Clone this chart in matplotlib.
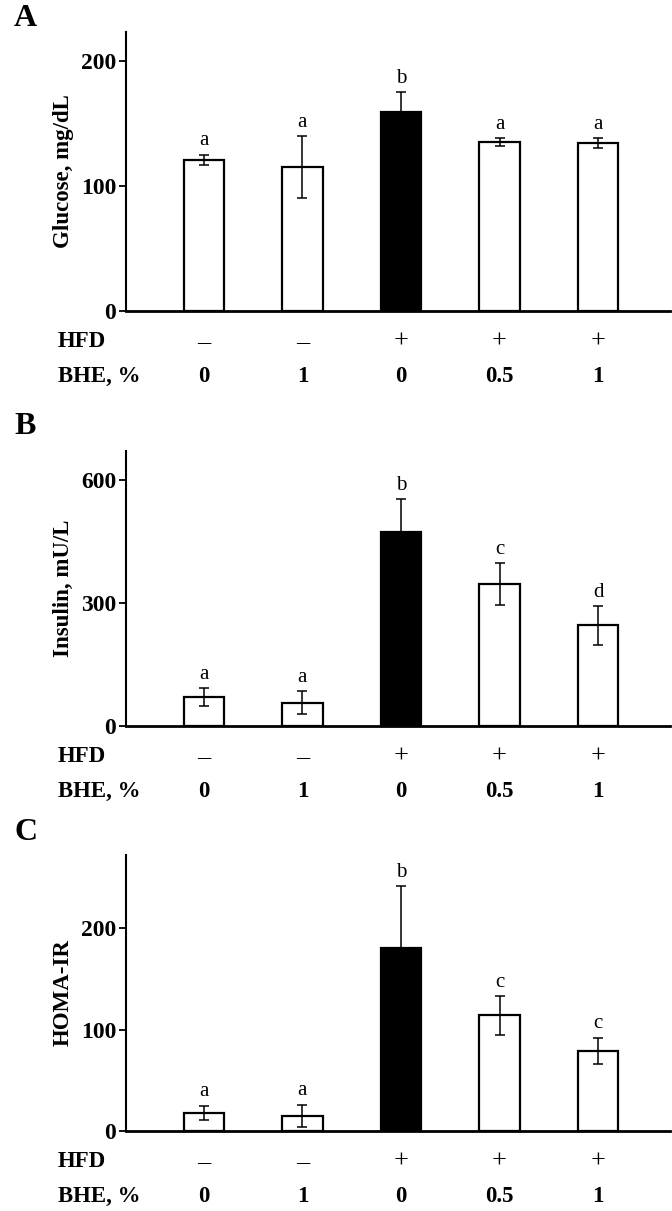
import matplotlib
matplotlib.use("Agg")
import matplotlib.pyplot as plt

# ── Data ───────────────────────────────────────────────────────
hfd = ["\u2013", "\u2013", "+", "+", "+"]
bhe = ["0", "1", "0", "0.5", "1"]
bar_colors = ["white", "white", "black", "white", "white"]

glucose = [121, 115, 159, 135, 134]
glucose_err = [4, 25, 16, 3, 4]
glucose_sig = ["a", "a", "b", "a", "a"]

insulin = [70, 57, 475, 347, 246]
insulin_err = [22, 28, 80, 52, 48]
insulin_sig = ["a", "a", "b", "c", "d"]

homa = [18, 15, 180, 114, 79]
homa_err = [7, 11, 61, 19, 13]
homa_sig = ["a", "a", "b", "c", "c"]

# ── Style ──────────────────────────────────────────────────────
plt.rcParams["font.family"] = ["Liberation Serif", "DejaVu Serif"]
plt.rcParams["font.weight"] = "bold"

fig = plt.figure(figsize=(6.72, 12.11), dpi=100)

W, H = 672.0, 1211.0
panels = [
    # letter, ylabel, values, errors, sig, ylim, ticks, (top px, bottom px, letter px)
    ("A", "Glucose, mg/dL", glucose, glucose_err, glucose_sig, 223, [0, 100, 200], (32, 311, 18)),
    ("B", "Insulin, mU/L", insulin, insulin_err, insulin_sig, 672, [0, 300, 600], (451, 726, 427)),
    ("C", "HOMA-IR", homa, homa_err, homa_sig, 272, [0, 100, 200], (855, 1131, 833)),
]

left_px, right_px = 126, 670
x = list(range(len(bhe)))

for letter, ylabel, vals, errs, sig, ytop, ticks, (top_px, bot_px, let_px) in panels:
    ax = fig.add_axes([left_px / W, 1 - bot_px / H,
                       (right_px - left_px) / W, (bot_px - top_px) / H])

    ax.bar(x, vals, width=0.41, color=bar_colors, edgecolor="black",
           linewidth=1.6, zorder=2)
    ax.errorbar(x, vals, yerr=errs, fmt="none", ecolor="black",
                elinewidth=1.1, capsize=3.5, capthick=1.1, zorder=3)

    # significance letters
    for i, (v, e, s) in enumerate(zip(vals, errs, sig)):
        ax.annotate(s, xy=(i, v + e), xytext=(0, 3), textcoords="offset points",
                    ha="center", va="bottom", fontsize=15, fontweight="normal")

    ax.set_xlim(-0.79, 4.73)
    ax.set_ylim(0, ytop)
    ax.set_yticks(ticks)
    ax.set_xticks([])
    ax.tick_params(axis="y", direction="out", length=5, width=1.3,
                   labelsize=17, pad=2)
    for lab in ax.get_yticklabels():
        lab.set_fontweight("bold")

    ax.spines["top"].set_visible(False)
    ax.spines["right"].set_visible(False)
    ax.spines["left"].set_linewidth(1.5)
    ax.spines["bottom"].set_linewidth(2.0)

    ax.set_ylabel(ylabel, fontsize=16.5, fontweight="bold", labelpad=5)

    # treatment rows under the axis
    lab_x = (58 - left_px) / (right_px - left_px)
    ax.annotate("HFD", xy=(lab_x, 0), xycoords="axes fraction",
                xytext=(0, -22), textcoords="offset points",
                ha="left", va="center", fontsize=16.5, fontweight="bold")
    ax.annotate("BHE, %", xy=(lab_x, 0), xycoords="axes fraction",
                xytext=(0, -47), textcoords="offset points",
                ha="left", va="center", fontsize=16.5, fontweight="bold")
    for i in x:
        ax.annotate(hfd[i], xy=(i, 0), xycoords=("data", "axes fraction"),
                    xytext=(0, -22), textcoords="offset points",
                    ha="center", va="center", fontsize=19, fontweight="normal",
                    annotation_clip=False)
        ax.annotate(bhe[i], xy=(i, 0), xycoords=("data", "axes fraction"),
                    xytext=(0, -47), textcoords="offset points",
                    ha="center", va="center", fontsize=16.5, fontweight="bold",
                    annotation_clip=False)

    # panel letter
    fig.text(14 / W, 1 - let_px / H, letter, fontsize=23,
             fontweight="bold", ha="left", va="center")

plt.savefig("out.png", dpi=100)
